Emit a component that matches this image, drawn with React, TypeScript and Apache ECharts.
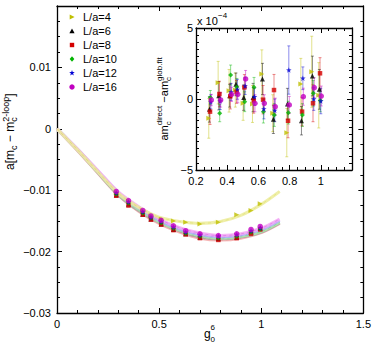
import React, { useEffect, useRef } from "react";
import * as echarts from "echarts";

const FONT = '"Liberation Sans", Arial, Helvetica, sans-serif';

const labels = ["L/a=4", "L/a=6", "L/a=8", "L/a=10", "L/a=12", "L/a=16"];
const colors = ["#bfbf00", "#000000", "#d40000", "#00b400", "#0000d4", "#c000c0"];
const bandColors = ["#ecec9a", "#a8a8a8", "#f4a8a8", "#acefac", "#b0b0ff", "#f4a8f4"];
const STAR = "M0,-10 L2.35,-3.24 9.51,-3.09 3.8,1.24 5.88,8.09 0,4 -5.88,8.09 -3.8,1.24 -9.51,-3.09 -2.35,-3.24Z";
const symbols = ["triangle", "triangle", "rect", "diamond", "path://" + STAR, "circle"];
const symbolRotates = [-90, 0, 0, 0, 0, 0];
const symbolSizes = [5, 5, 4.5, 5, 5.5, 5.5];
const insetOffsets = [-0.008, -0.004, 0, 0.002, 0.005, 0.008];

// g0^6 values of the lattice points
const gData = [0.29, 0.35, 0.42, 0.46, 0.51, 0.57, 0.63, 0.7, 0.79, 0.88, 0.95, 0.995];

// a[m_c - m_c^{2-loop}] data points
const main4 = [-0.0104, -0.0118, -0.0134, -0.0142, -0.0147, -0.015, -0.0152, -0.0155, -0.0152, -0.014, -0.0133, -0.0122];
const main6 = [-0.0108, -0.0123, -0.0139, -0.0147, -0.0155, -0.0164, -0.0171, -0.0177, -0.0179, -0.0177, -0.0168, -0.0162];
const main8 = [-0.0109, -0.0125, -0.014, -0.0148, -0.0156, -0.0165, -0.0172, -0.0178, -0.0181, -0.0178, -0.0171, -0.0164];
const main10 = [-0.0106, -0.0121, -0.0137, -0.0145, -0.0153, -0.0162, -0.017, -0.0175, -0.0178, -0.0175, -0.0168, -0.0163];
const main12 = [-0.0104, -0.0119, -0.0135, -0.0144, -0.0151, -0.016, -0.0168, -0.0173, -0.0175, -0.0172, -0.0166, -0.0161];
const main16 = [-0.0102, -0.0117, -0.0133, -0.0142, -0.0149, -0.0158, -0.0166, -0.0171, -0.0174, -0.0171, -0.0164, -0.0159];
const mainValues = [main4, main6, main8, main10, main12, main16];

// fit curves
const curveG = [0, 0.1, 0.2, 0.3, 0.4, 0.5, 0.6, 0.7, 0.8, 0.9, 1.0, 1.09];
const curve4 = [0, -0.0034, -0.007, -0.0105, -0.0128, -0.0144, -0.0151, -0.0154, -0.0151, -0.0141, -0.0123, -0.0102];
const curve6 = [0, -0.0034, -0.0071, -0.0107, -0.0133, -0.0152, -0.0166, -0.0176, -0.0179, -0.0176, -0.0168, -0.0153];
const curve8 = [0, -0.0035, -0.0072, -0.0108, -0.0134, -0.0154, -0.0168, -0.0178, -0.0181, -0.0178, -0.0169, -0.0154];
const curve10 = [0, -0.0034, -0.007, -0.0106, -0.0131, -0.0151, -0.0165, -0.0174, -0.0178, -0.0175, -0.0167, -0.0152];
const curve12 = [0, -0.0033, -0.0069, -0.0104, -0.0129, -0.0149, -0.0163, -0.0172, -0.0176, -0.0173, -0.0164, -0.0149];
const curve16 = [0, -0.0033, -0.0068, -0.0103, -0.0127, -0.0147, -0.0161, -0.017, -0.0174, -0.0171, -0.0162, -0.0147];
const curves = [curve4, curve6, curve8, curve10, curve12, curve16];

// inset residuals (units of 1e-4) and their errors
const res4 = [-1.36, 1.15, 0.58, 0.63, -0.3, -0.35, 1.76, -1.0, -2.37, 1.06, 1.92, 0.26];
const res6 = [-0.73, 0.23, 0.23, 1.03, 0.1, 0.1, 1.41, -1.43, -0.35, -1.53, 1.62, 0.68];
const res8 = [-0.89, 0.35, 0.2, 0.5, 0.82, -0.1, -0.05, 0.63, -1.53, -0.89, -0.3, 1.81];
const res10 = [0.1, -1.0, 1.69, 0.85, -0.19, 0.82, -0.89, -1.13, -0.96, -1.13, 0.4, -0.1];
const res12 = [-0.2, -0.14, 0.5, 0.68, 0.92, 0.16, -0.7, -0.8, 2.04, 1.46, 0.0, -0.14];
const res16 = [-0.07, -0.07, 0.33, 0.33, 1.41, -0.3, -0.3, -0.54, -0.42, 0.16, 0.8, 0.21];
const residuals = [res4, res6, res8, res10, res12, res16];

const err4 = [1.4, 1.5, 1.5, 1.2, 1.2, 1.3, 1.7, 1.3, 1.7, 1.8, 2.5, 2.3];
const err6 = [0.9, 1.0, 0.8, 0.8, 0.9, 1.0, 1.1, 1.0, 1.1, 1.0, 1.4, 1.4];
const err8 = [0.9, 0.9, 0.9, 0.8, 0.9, 0.9, 1.0, 1.1, 1.2, 1.0, 1.3, 1.1];
const err10 = [0.5, 0.6, 0.7, 0.6, 0.7, 0.7, 0.8, 0.8, 0.8, 0.8, 0.9, 0.8];
const err12 = [0.5, 0.6, 0.6, 0.7, 0.6, 0.6, 0.7, 0.8, 1.7, 0.8, 0.8, 0.9];
const err16 = [0.4, 0.5, 0.5, 0.6, 0.6, 0.6, 0.6, 0.6, 0.6, 0.6, 0.7, 0.7];
const errors = [err4, err6, err8, err10, err12, err16];

const MINUS = "\u2212";

function fmtMain(v: number) {
  const r = Math.round(v * 1000) / 1000;
  if (r === 0) return "0";
  return r < 0 ? MINUS + String(-r) : String(r);
}
function fmtInsetY(v: number) {
  const r = Math.round(v);
  if (r === 0) return "0";
  return r < 0 ? MINUS + String(-r) : String(r);
}
function fmtInsetX(v: number) {
  const r = Math.round(v * 10) / 10;
  return String(r);
}

function txt(text: string, x: number, y: number, size: number) {
  return {
    type: "text",
    x,
    y,
    style: {
      text,
      font: `${size}px ${FONT}`,
      fill: "#000",
      textAlign: "left",
      textVerticalAlign: "middle",
      verticalAlign: "middle",
    },
  };
}

// legend marker shapes (unit shapes, scaled around the marker centre)
function legendMarker(k: number, cx: number, cy: number) {
  const fill = colors[k];
  const s = 2.6;
  const poly = (pts: number[][]) => ({
    type: "polygon",
    shape: { points: pts.map((p) => [cx + p[0] * s, cy + p[1] * s]) },
    style: { fill },
  });
  if (k === 0) return poly([[-0.9, -1], [1, 0], [-0.9, 1]]);
  if (k === 1) return poly([[0, -1], [1, 0.85], [-1, 0.85]]);
  if (k === 2) return { type: "rect", shape: { x: cx - 2.2, y: cy - 2.2, width: 4.4, height: 4.4 }, style: { fill } };
  if (k === 3) return poly([[0, -1.1], [0.9, 0], [0, 1.1], [-0.9, 0]]);
  if (k === 4)
    return poly([
      [0, -1], [0.235, -0.324], [0.951, -0.309], [0.38, 0.124], [0.588, 0.809],
      [0, 0.4], [-0.588, 0.809], [-0.38, 0.124], [-0.951, -0.309], [-0.235, -0.324],
    ].map((p) => [p[0] * 1.15, p[1] * 1.15]));
  return { type: "circle", shape: { cx, cy, r: 2.7 }, style: { fill } };
}

function axisBase(extra: any) {
  return {
    type: "value",
    axisLine: { show: true, onZero: false, lineStyle: { color: "#000", width: 1.3 } },
    axisTick: { show: true, inside: true, length: 5, lineStyle: { color: "#000", width: 1 } },
    minorTick: { show: true, length: 3, lineStyle: { color: "#000", width: 1 } },
    splitLine: { show: false },
    axisLabel: { color: "#000", fontSize: 11, fontFamily: FONT },
    ...extra,
  };
}

export default function App() {
  const ref = useRef<HTMLDivElement>(null);
  useEffect(() => {
    if (!ref.current) return;
    const chart = echarts.init(ref.current, null, { renderer: "svg" });

    const series: any[] = [];
    // bands (fits)
    [2, 1, 3, 4, 5, 0].forEach((k) => {
      const d = curveG.map((g, i) => [g, curves[k][i]]);
      series.push({
        type: "line",
        name: labels[k] + " fit",
        xAxisIndex: 0,
        yAxisIndex: 0,
        data: d,
        smooth: 0.3,
        showSymbol: false,
        silent: true,
        z: 2,
        lineStyle: { color: bandColors[k], width: 3.2, opacity: 0.85 },
      });
      series.push({
        type: "line",
        name: labels[k] + " fitc",
        xAxisIndex: 0,
        yAxisIndex: 0,
        data: d,
        smooth: 0.3,
        showSymbol: false,
        silent: true,
        z: 2,
        lineStyle: { color: colors[k], width: 0.6, type: [3, 3], opacity: 0.35 },
      });
    });
    // main points
    labels.forEach((lbl, k) => {
      series.push({
        type: "scatter",
        name: lbl,
        xAxisIndex: 0,
        yAxisIndex: 0,
        data: gData.map((g, i) => [g, mainValues[k][i]]),
        symbol: symbols[k],
        symbolSize: symbolSizes[k],
        symbolRotate: symbolRotates[k],
        itemStyle: { color: colors[k] },
        z: 4,
      });
    });
    // inset zero line
    series.push({
      type: "line",
      name: "zero",
      xAxisIndex: 2,
      yAxisIndex: 2,
      data: [
        [0.2, 0],
        [1.2, 0],
      ],
      showSymbol: false,
      silent: true,
      z: 2,
      lineStyle: { color: "#a0a0a0", width: 1.5 },
    });
    // inset error bars and points
    labels.forEach((lbl, k) => {
      const col = colors[k];
      series.push({
        type: "custom",
        name: lbl + " err",
        xAxisIndex: 2,
        yAxisIndex: 2,
        silent: true,
        z: 3,
        data: gData.map((g, i) => [g + insetOffsets[k], residuals[k][i], errors[k][i]]),
        encode: { x: 0, y: 1 },
        renderItem: (params: any, api: any) => {
          const x = api.value(0);
          const y = api.value(1);
          const e = api.value(2);
          const t = api.coord([x, y + e]);
          const b = api.coord([x, y - e]);
          const c = 1.5;
          const st = { stroke: col, lineWidth: 1, opacity: 0.45 };
          return {
            type: "group",
            children: [
              { type: "line", shape: { x1: t[0], y1: t[1], x2: b[0], y2: b[1] }, style: st },
              { type: "line", shape: { x1: t[0] - c, y1: t[1], x2: t[0] + c, y2: t[1] }, style: st },
              { type: "line", shape: { x1: b[0] - c, y1: b[1], x2: b[0] + c, y2: b[1] }, style: st },
            ],
          };
        },
      });
    });
    labels.forEach((lbl, k) => {
      series.push({
        type: "scatter",
        name: lbl + " inset",
        xAxisIndex: 2,
        yAxisIndex: 2,
        data: gData.map((g, i) => [g + insetOffsets[k], residuals[k][i]]),
        symbol: symbols[k],
        symbolSize: symbolSizes[k],
        symbolRotate: symbolRotates[k],
        itemStyle: { color: colors[k] },
        z: 4,
      });
    });

    const legendItems: any[] = [];
    labels.forEach((lbl, k) => {
      const cy = 17 + k * 14;
      legendItems.push(legendMarker(k, 72, cy));
      legendItems.push(txt(lbl, 83, cy, 11));
    });

    const graphic: any[] = [
      ...legendItems,
      {
        type: "group",
        x: 10,
        y: 132,
        rotation: Math.PI / 2,
        children: [
          txt("a[m", -38, 0, 12),
          txt("c", -18, 4, 9),
          txt(" " + MINUS + " m", -13.5, 0, 12),
          txt("c", 10.2, 4, 9),
          txt("2-loop", 10.2, -4.5, 9),
          txt("]", 35.2, 0, 12),
        ],
      },
      {
        type: "group",
        x: 164,
        y: 99,
        rotation: Math.PI / 2,
        z: 10,
        children: [
          txt("am", -41.6, 0, 11),
          txt("c", -26.3, 4, 8),
          txt("direct", -26.3, -4.5, 8),
          txt(" " + MINUS + "am", -6.7, 0, 11),
          txt("c", 18.1, 4, 8),
          txt("glob.fit", 18.1, -4.5, 8),
        ],
      },
      txt("g", 204, 334, 12),
      txt("6", 210.5, 327.5, 8),
      txt("0", 210.5, 339.5, 8),
      txt("x 10", 197, 21, 11),
      txt(MINUS + "4", 218, 15, 8),
    ];

    chart.setOption({
      animation: false,
      backgroundColor: "#fff",
      textStyle: { fontFamily: FONT },
      grid: [
        { left: 57, top: 6, width: 307, height: 307, containLabel: false },
        {
          left: 196,
          top: 28,
          width: 156,
          height: 142,
          containLabel: false,
          show: true,
          backgroundColor: "#fff",
          borderWidth: 0,
          z: 3,
        },
      ],
      xAxis: [
        axisBase({
          gridIndex: 0,
          position: "bottom",
          min: 0,
          max: 1.5,
          interval: 0.5,
          minorTick: { show: true, splitNumber: 5, length: 3, lineStyle: { color: "#000" } },
          axisLabel: { color: "#000", fontSize: 11, fontFamily: FONT, margin: 5, formatter: (v: number) => String(v) },
        }),
        axisBase({
          gridIndex: 0,
          position: "top",
          min: 0,
          max: 1.5,
          interval: 0.5,
          minorTick: { show: true, splitNumber: 5, length: 3, lineStyle: { color: "#000" } },
          axisLabel: { show: false },
        }),
        axisBase({
          gridIndex: 1,
          position: "bottom",
          min: 0.2,
          max: 1.2,
          interval: 0.2,
          minorTick: { show: true, splitNumber: 4, length: 3, lineStyle: { color: "#000" } },
          axisLabel: {
            color: "#000",
            fontSize: 11,
            fontFamily: FONT,
            margin: 5,
            showMaxLabel: false,
            formatter: fmtInsetX,
          },
          z: 5,
        }),
        axisBase({
          gridIndex: 1,
          position: "top",
          min: 0.2,
          max: 1.2,
          interval: 0.2,
          minorTick: { show: true, splitNumber: 4, length: 3, lineStyle: { color: "#000" } },
          axisLabel: { show: false },
          z: 5,
        }),
      ],
      yAxis: [
        axisBase({
          gridIndex: 0,
          position: "left",
          min: -0.03,
          max: 0.02,
          interval: 0.01,
          minorTick: { show: true, splitNumber: 4, length: 3, lineStyle: { color: "#000" } },
          axisLabel: { color: "#000", fontSize: 11, fontFamily: FONT, margin: 6, showMaxLabel: false, formatter: fmtMain },
        }),
        axisBase({
          gridIndex: 0,
          position: "right",
          min: -0.03,
          max: 0.02,
          interval: 0.01,
          minorTick: { show: true, splitNumber: 4, length: 3, lineStyle: { color: "#000" } },
          axisLabel: { show: false },
        }),
        axisBase({
          gridIndex: 1,
          position: "left",
          min: -5,
          max: 5,
          interval: 5,
          minorTick: { show: true, splitNumber: 10, length: 3, lineStyle: { color: "#000" } },
          axisLabel: { color: "#000", fontSize: 11, fontFamily: FONT, margin: 3, formatter: fmtInsetY },
          z: 5,
        }),
        axisBase({
          gridIndex: 1,
          position: "right",
          min: -5,
          max: 5,
          interval: 5,
          minorTick: { show: true, splitNumber: 10, length: 3, lineStyle: { color: "#000" } },
          axisLabel: { show: false },
          z: 5,
        }),
      ],
      graphic,
      series,
    });
    return () => chart.dispose();
  }, []);
  return (
    <div
      ref={ref}
      style={{ position: "fixed", left: 0, top: 0, width: 374, height: 345, background: "#fff" }}
    />
  );
}
